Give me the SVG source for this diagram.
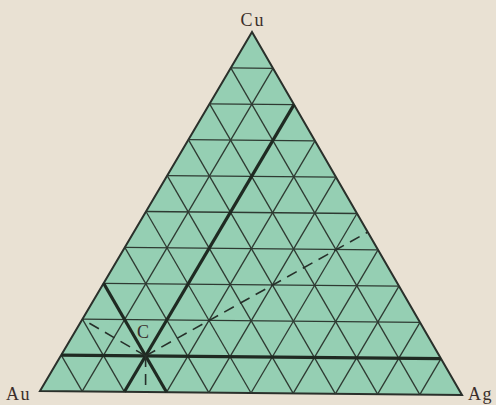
<svg xmlns="http://www.w3.org/2000/svg" width="496" height="405" viewBox="0 0 496 405">
<style>
.grid{stroke:#2e3a32;stroke-width:1.3;fill:none}
.edge{stroke:#2a302b;stroke-width:2;fill:#95cfb3;stroke-linejoin:miter}
.thick{stroke:#1f2a22;stroke-width:3.2;fill:none}
.dash{stroke:#26302a;stroke-width:1.6;fill:none;stroke-dasharray:11 7}
.lbl{font-family:"Liberation Serif","Times New Roman",serif;fill:#3a2e2a;font-size:18px}
</style>
<rect width="496" height="405" fill="#e9e1d3"/>
<g id="triangle">
<polygon class="edge" points="252,32 40,391 462,395"/>
</g>
<g id="grid" class="grid">
<line x1="61.2" y1="355.1" x2="441" y2="358.7"/>
<line x1="82.4" y1="319.2" x2="420" y2="322.4"/>
<line x1="103.6" y1="283.3" x2="399" y2="286.1"/>
<line x1="124.8" y1="247.4" x2="378" y2="249.8"/>
<line x1="146" y1="211.5" x2="357" y2="213.5"/>
<line x1="167.2" y1="175.6" x2="336" y2="177.2"/>
<line x1="188.4" y1="139.7" x2="315" y2="140.9"/>
<line x1="209.6" y1="103.8" x2="294" y2="104.6"/>
<line x1="230.8" y1="67.9" x2="273" y2="68.3"/>
<line x1="230.8" y1="67.9" x2="419.8" y2="394.6"/>
<line x1="209.6" y1="103.8" x2="377.6" y2="394.2"/>
<line x1="188.4" y1="139.7" x2="335.4" y2="393.8"/>
<line x1="167.2" y1="175.6" x2="293.2" y2="393.4"/>
<line x1="146" y1="211.5" x2="251" y2="393"/>
<line x1="124.8" y1="247.4" x2="208.8" y2="392.6"/>
<line x1="103.6" y1="283.3" x2="166.6" y2="392.2"/>
<line x1="82.4" y1="319.2" x2="124.4" y2="391.8"/>
<line x1="61.2" y1="355.1" x2="82.2" y2="391.4"/>
<line x1="273" y1="68.3" x2="82.2" y2="391.4"/>
<line x1="294" y1="104.6" x2="124.4" y2="391.8"/>
<line x1="315" y1="140.9" x2="166.6" y2="392.2"/>
<line x1="336" y1="177.2" x2="208.8" y2="392.6"/>
<line x1="357" y1="213.5" x2="251" y2="393"/>
<line x1="378" y1="249.8" x2="293.2" y2="393.4"/>
<line x1="399" y1="286.1" x2="335.4" y2="393.8"/>
<line x1="420" y1="322.4" x2="377.6" y2="394.2"/>
<line x1="441" y1="358.7" x2="419.8" y2="394.6"/>
</g>
<g id="connectors">
<line class="thick" x1="61.2" y1="355.1" x2="441" y2="358.7"/>
<line class="thick" x1="103.6" y1="283.3" x2="166.6" y2="392.2"/>
<line class="thick" x1="294" y1="104.6" x2="124.4" y2="391.8"/>
<line class="dash" x1="145.6" y1="355.9" x2="82.4" y2="319.2"/>
<line class="dash" x1="145.6" y1="355.9" x2="367.5" y2="232.2"/>
<line class="dash" x1="145.6" y1="355.9" x2="145.6" y2="392"/>
</g>
<g id="labels">
<text class="lbl" x="253" y="26" text-anchor="middle" letter-spacing="2">Cu</text>
<text class="lbl" x="6" y="400" letter-spacing="1.5">Au</text>
<text class="lbl" x="468" y="400" letter-spacing="1.5">Ag</text>
<text class="lbl" x="137" y="338" font-size="19">C</text>
</g>
</svg>
